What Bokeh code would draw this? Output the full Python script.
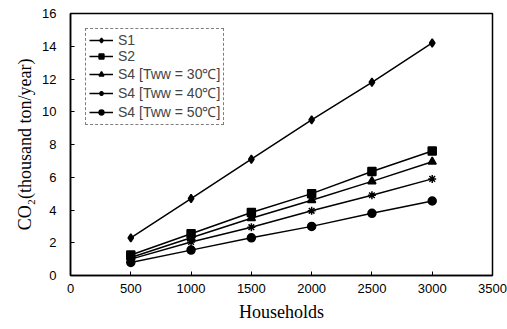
from bokeh.plotting import figure
from bokeh.models import Legend, LegendItem, FixedTicker, Range1d
from bokeh.embed import file_html
from bokeh.resources import INLINE

households = [500, 1000, 1500, 2000, 2500, 3000]
s1 = [2.3, 4.7, 7.1, 9.5, 11.8, 14.2]
s2 = [1.25, 2.55, 3.85, 5.0, 6.35, 7.6]
s4_30 = [1.1, 2.3, 3.5, 4.6, 5.75, 6.95]
s4_40 = [1.0, 2.05, 2.95, 3.95, 4.9, 5.9]
s4_50 = [0.8, 1.55, 2.3, 3.0, 3.8, 4.55]
labels = ["S1", "S2", "S4 [Tww = 30\u2103]", "S4 [Tww = 40\u2103]", "S4 [Tww = 50\u2103]"]
x_ticks = [0, 500, 1000, 1500, 2000, 2500, 3000, 3500]
y_ticks = [0, 2, 4, 6, 8, 10, 12, 14, 16]

p = figure(width=507, height=329, output_backend="svg", toolbar_location=None,
           x_range=Range1d(0, 3500), y_range=Range1d(0, 16),
           min_border_left=70, min_border_right=15, min_border_top=13, min_border_bottom=54)
p.xgrid.visible = False
p.ygrid.visible = False
p.outline_line_color = "black"
p.outline_line_width = 1.5
p.background_fill_color = "white"
p.border_fill_color = "white"

for ax in (p.xaxis[0], p.yaxis[0]):
    ax.axis_line_width = 1.5
    ax.major_tick_in = 4
    ax.major_tick_out = 0
    ax.minor_tick_line_color = None
    ax.major_label_text_font = "Liberation Sans"
    ax.major_label_text_font_size = "13px"
    ax.major_label_text_color = "black"
    ax.axis_label_text_font = "Liberation Serif"
    ax.axis_label_text_font_style = "normal"
    ax.axis_label_text_font_size = "18px"
    ax.axis_label_text_color = "black"
p.xaxis.ticker = FixedTicker(ticks=x_ticks)
p.yaxis.ticker = FixedTicker(ticks=y_ticks)
p.xaxis.major_label_standoff = 8
p.yaxis.major_label_standoff = 14
p.xaxis.axis_label = "Households"
p.yaxis.axis_label = "CO\u2082(thousand ton/year)"
p.xaxis.axis_label_standoff = 6
p.yaxis.axis_label_standoff = 4

series = [s1, s2, s4_30, s4_40, s4_50]
markers = ["diamond", "square", "triangle", "asterisk", "circle"]
items = []
for ys, m, lab in zip(series, markers, labels):
    r1 = p.line(households, ys, line_color="black", line_width=1.5)
    r2 = p.scatter(households, ys, marker=m, size=8, fill_color="black",
                   line_color="black", line_width=1.5)
    items.append(LegendItem(label=lab, renderers=[r1, r2]))

leg = Legend(items=items, location="top_left", margin=15,
             border_line_color="black", border_line_dash="4 2", border_line_width=1,
             label_text_font="Liberation Sans", label_text_font_size="14px",
             glyph_width=24, glyph_height=12, label_height=12, spacing=0,
             padding=3, label_standoff=5, label_text_line_height=1.0,
             background_fill_alpha=1)
p.add_layout(leg, "center")

open("out.html", "w").write(file_html(p, INLINE))
